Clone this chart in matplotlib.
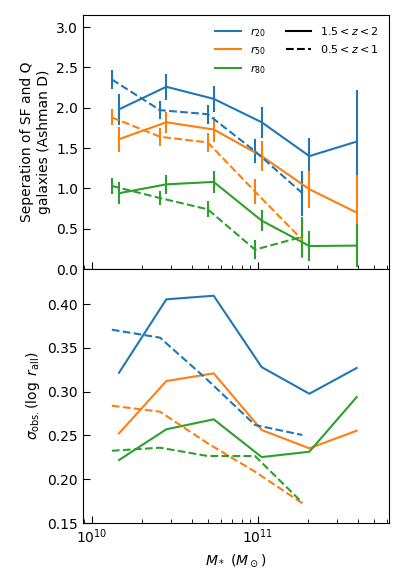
import numpy as np
import matplotlib
matplotlib.use("Agg")
import matplotlib.pyplot as plt
from matplotlib.lines import Line2D

# log10 stellar mass bin centres
logm_hi = [10.163, 10.448, 10.733, 11.022, 11.309, 11.594]   # 1.5<z<2
logm_lo = [10.120, 10.410, 10.697, 10.982, 11.267]           # 0.5<z<1

# Ashman D, high z
D20_hi = [1.98, 2.26, 2.11, 1.82, 1.40, 1.58]
D20_hi_err = [0.19, 0.16, 0.16, 0.19, 0.22, 0.64]
D50_hi = [1.61, 1.82, 1.73, 1.40, 0.99, 0.70]
D50_hi_err = [0.155, 0.13, 0.155, 0.19, 0.23, 0.47]
D80_hi = [0.94, 1.05, 1.08, 0.60, 0.285, 0.29]
D80_hi_err = [0.14, 0.12, 0.14, 0.13, 0.19, 0.27]

# Ashman D, low z
D20_lo = [2.35, 1.97, 1.92, 1.46, 0.94]
D20_lo_err = [0.12, 0.11, 0.12, 0.15, 0.28]
D50_lo = [1.88, 1.64, 1.57, 0.96, 0.36]
D50_lo_err = [0.10, 0.11, 0.12, 0.155, 0.22]
D80_lo = [1.03, 0.88, 0.74, 0.24, 0.40]
D80_lo_err = [0.10, 0.09, 0.10, 0.12, 0.25]

# sigma_obs
S20_hi = [0.3216, 0.4054, 0.4095, 0.328, 0.2976, 0.327]
S50_hi = [0.2524, 0.3121, 0.3209, 0.2562, 0.2353, 0.2554]
S80_hi = [0.2219, 0.2570, 0.2684, 0.2253, 0.2314, 0.2938]
S20_lo = [0.3707, 0.3616, 0.3132, 0.2619, 0.2505]
S50_lo = [0.2839, 0.2771, 0.2410, 0.2086, 0.1725]
S80_lo = [0.2325, 0.2360, 0.2265, 0.2265, 0.1732]

colors = ['#1f77b4', '#ff7f0e', '#2ca02c']
labels = [r'$r_{20}$', r'$r_{50}$', r'$r_{80}$']

m_hi = 10 ** np.array(logm_hi)
m_lo = 10 ** np.array(logm_lo)

fig = plt.figure(figsize=(4.04, 5.88), dpi=100)
ax1 = fig.add_axes([0.2054, 0.5425, 0.7576, 0.432])
ax2 = fig.add_axes([0.2054, 0.1105, 0.7576, 0.432], sharex=ax1)

D_hi = [(D20_hi, D20_hi_err), (D50_hi, D50_hi_err), (D80_hi, D80_hi_err)]
D_lo = [(D20_lo, D20_lo_err), (D50_lo, D50_lo_err), (D80_lo, D80_lo_err)]
for c, (v, e) in zip(colors, D_hi):
    ax1.errorbar(m_hi, v, yerr=e, color=c, ls='-', lw=1.5, elinewidth=1.5)
for c, (v, e) in zip(colors, D_lo):
    ax1.errorbar(m_lo, v, yerr=e, color=c, ls='--', lw=1.5, elinewidth=1.5)

for c, v in zip(colors, [S20_hi, S50_hi, S80_hi]):
    ax2.plot(m_hi, v, color=c, ls='-', lw=1.5)
for c, v in zip(colors, [S20_lo, S50_lo, S80_lo]):
    ax2.plot(m_lo, v, color=c, ls='--', lw=1.5)

ax1.set_xscale('log')
ax1.set_xlim(10 ** 9.946, 10 ** 11.789)
ax1.set_ylim(0, 3.15)
ax2.set_ylim(0.15, 0.44)
ax1.set_yticks([0.0, 0.5, 1.0, 1.5, 2.0, 2.5, 3.0])
ax2.set_yticks([0.15, 0.20, 0.25, 0.30, 0.35, 0.40])

for ax in (ax1, ax2):
    ax.tick_params(which='both', direction='in', top=False, right=False, labelsize=10)
    ax.tick_params(which='major', length=5)
    ax.tick_params(which='minor', length=3)
ax1.tick_params(labelbottom=False)

ax1.set_ylabel('Seperation of SF and Q\ngalaxies (Ashman D)', fontsize=10)
ax2.set_ylabel(r'$\sigma_{\rm obs.}(\log\ r_{\rm all})$', fontsize=10)
ax2.set_xlabel(r'$M_*$ ($M_\odot$)', fontsize=10)

handles = [Line2D([], [], color=c, lw=1.5) for c in colors]
handles += [Line2D([], [], color='k', lw=1.5, ls='-'),
            Line2D([], [], color='k', lw=1.5, ls='--'),
            Line2D([], [], color='none')]
leg_labels = labels + [r'$1.5 < z < 2$', r'$0.5 < z < 1$', '']
ax1.legend(handles, leg_labels, ncol=2, frameon=False, fontsize=8,
           loc='upper right', handlelength=2.3, columnspacing=1.8)

fig.savefig('out.png', dpi=100)
